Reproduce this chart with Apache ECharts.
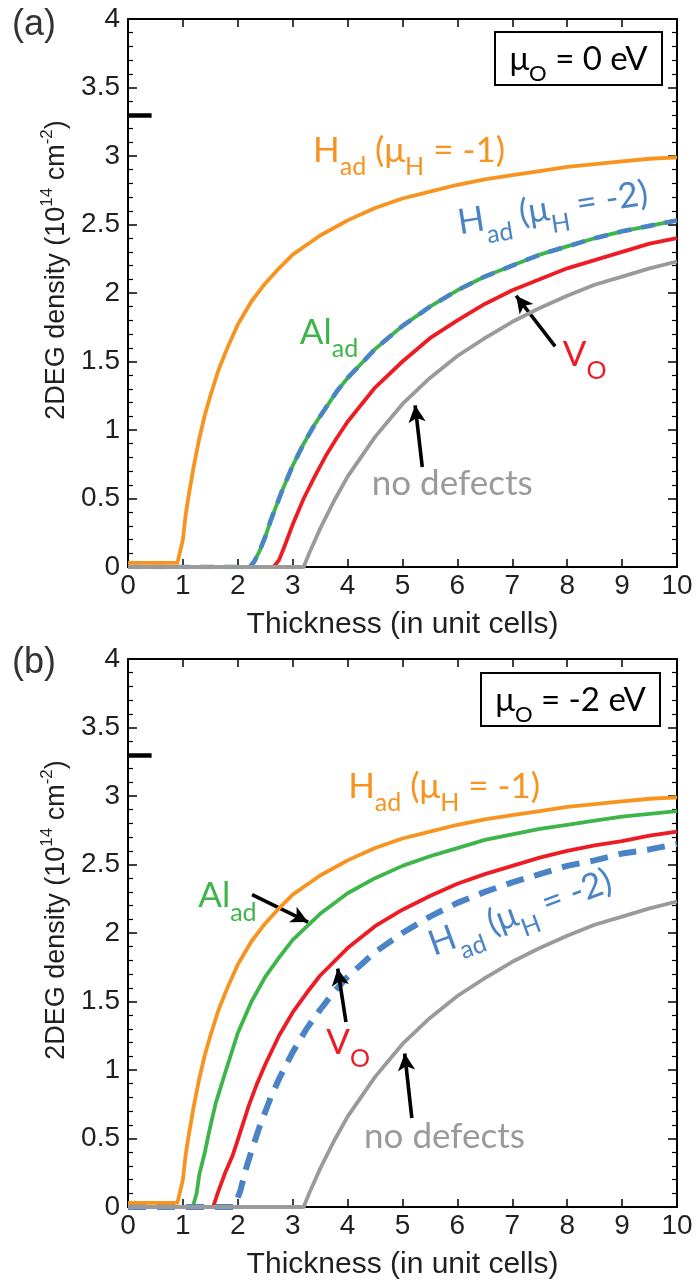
<!DOCTYPE html>
<html>
<head>
<meta charset="utf-8">
<script src="https://cdn.jsdelivr.net/npm/echarts@6/dist/echarts.min.js"></script>
<style>
  html, body { margin: 0; padding: 0; background: #fff; }
  #chart { width: 696px; height: 1281px; }
</style>
</head>
<body>
<div id="chart"></div>
<script>
// ---- Panel (a): mu_O = 0 eV ----
const aOrangeX = [0, 0.9, 1.0, 1.05, 1.1, 1.2, 1.3, 1.4, 1.5, 1.65, 1.8, 2.0, 2.25, 2.5, 2.75, 3.0, 3.5, 4.0, 4.5, 5.0, 5.5, 6.0, 6.5, 7.0, 7.5, 8.0, 8.5, 9.0, 9.5, 10];
const aOrangeY = [0.03, 0.03, 0.2, 0.38, 0.51, 0.74, 0.94, 1.11, 1.25, 1.44, 1.59, 1.77, 1.94, 2.07, 2.18, 2.28, 2.42, 2.53, 2.62, 2.69, 2.74, 2.79, 2.83, 2.86, 2.89, 2.92, 2.94, 2.96, 2.98, 2.99];
const aGreenX = [0, 2.22, 2.3, 2.4, 2.5, 2.6, 2.8, 3.0, 3.2, 3.4, 3.6, 3.8, 4.0, 4.5, 5.0, 5.5, 6.0, 6.5, 7.0, 7.5, 8.0, 8.5, 9.0, 9.5, 10];
const aGreenY = [0, 0, 0.04, 0.12, 0.22, 0.34, 0.55, 0.74, 0.90, 1.04, 1.16, 1.28, 1.38, 1.59, 1.76, 1.90, 2.02, 2.12, 2.20, 2.28, 2.34, 2.40, 2.45, 2.49, 2.53];
const aBlueX = [0, 2.22, 2.3, 2.4, 2.5, 2.6, 2.8, 3.0, 3.2, 3.4, 3.6, 3.8, 4.0, 4.5, 5.0, 5.5, 6.0, 6.5, 7.0, 7.5, 8.0, 8.5, 9.0, 9.5, 10];
const aBlueY = [0, 0, 0.04, 0.12, 0.22, 0.34, 0.55, 0.74, 0.90, 1.04, 1.16, 1.28, 1.38, 1.59, 1.76, 1.90, 2.02, 2.12, 2.20, 2.28, 2.34, 2.40, 2.45, 2.49, 2.53];
const aRedX = [0, 2.65, 2.75, 2.85, 3.0, 3.2, 3.4, 3.6, 3.8, 4.0, 4.5, 5.0, 5.5, 6.0, 6.5, 7.0, 7.5, 8.0, 8.5, 9.0, 9.5, 10];
const aRedY = [0, 0, 0.05, 0.15, 0.31, 0.50, 0.66, 0.81, 0.94, 1.06, 1.31, 1.50, 1.67, 1.80, 1.92, 2.02, 2.10, 2.18, 2.24, 2.30, 2.36, 2.40];
const aGrayX = [0, 3.2, 3.3, 3.4, 3.5, 3.75, 4.0, 4.5, 5.0, 5.5, 6.0, 6.5, 7.0, 7.5, 8.0, 8.5, 9.0, 9.5, 10];
const aGrayY = [0, 0, 0.10, 0.19, 0.28, 0.48, 0.66, 0.95, 1.19, 1.38, 1.54, 1.67, 1.79, 1.89, 1.98, 2.06, 2.12, 2.18, 2.23];

// ---- Panel (b): mu_O = -2 eV ----
const bOrangeX = [0, 0.9, 1.0, 1.05, 1.1, 1.2, 1.3, 1.4, 1.5, 1.65, 1.8, 2.0, 2.25, 2.5, 2.75, 3.0, 3.5, 4.0, 4.5, 5.0, 5.5, 6.0, 6.5, 7.0, 7.5, 8.0, 8.5, 9.0, 9.5, 10];
const bOrangeY = [0.03, 0.03, 0.2, 0.38, 0.51, 0.74, 0.94, 1.11, 1.25, 1.44, 1.59, 1.77, 1.94, 2.07, 2.18, 2.28, 2.42, 2.53, 2.62, 2.69, 2.74, 2.79, 2.83, 2.86, 2.89, 2.92, 2.94, 2.96, 2.98, 2.99];
const bGreenX = [0, 1.18, 1.25, 1.3, 1.4, 1.5, 1.6, 1.77, 2.0, 2.25, 2.5, 2.75, 3.0, 3.5, 4.0, 4.5, 5.0, 5.5, 6.0, 6.5, 7.0, 7.5, 8.0, 8.5, 9.0, 9.5, 10];
const bGreenY = [0, 0, 0.10, 0.24, 0.40, 0.59, 0.76, 0.98, 1.27, 1.50, 1.68, 1.82, 1.95, 2.14, 2.29, 2.40, 2.49, 2.56, 2.62, 2.68, 2.72, 2.76, 2.79, 2.82, 2.85, 2.87, 2.89];
const bRedX = [0, 1.55, 1.65, 1.77, 1.9, 2.0, 2.2, 2.35, 2.5, 2.75, 3.0, 3.25, 3.5, 4.0, 4.5, 5.0, 5.5, 6.0, 6.5, 7.0, 7.5, 8.0, 8.5, 9.0, 9.5, 10];
const bRedY = [0, 0, 0.12, 0.25, 0.37, 0.49, 0.74, 0.90, 1.04, 1.25, 1.42, 1.56, 1.69, 1.89, 2.05, 2.17, 2.27, 2.36, 2.43, 2.49, 2.55, 2.60, 2.64, 2.67, 2.71, 2.74];
const bBlueX = [0, 1.93, 2.04, 2.15, 2.25, 2.4, 2.6, 2.77, 3.0, 3.25, 3.5, 3.75, 4.0, 4.5, 5.0, 5.5, 6.0, 6.5, 7.0, 7.5, 8.0, 8.5, 9.0, 9.5, 10];
const bBlueY = [0, 0, 0.11, 0.28, 0.41, 0.59, 0.80, 0.95, 1.13, 1.30, 1.44, 1.57, 1.68, 1.86, 2.00, 2.12, 2.22, 2.30, 2.37, 2.43, 2.49, 2.53, 2.58, 2.61, 2.65];
const bGrayX = [0, 3.2, 3.3, 3.4, 3.5, 3.75, 4.0, 4.5, 5.0, 5.5, 6.0, 6.5, 7.0, 7.5, 8.0, 8.5, 9.0, 9.5, 10];
const bGrayY = [0, 0, 0.10, 0.19, 0.28, 0.48, 0.66, 0.95, 1.19, 1.38, 1.54, 1.67, 1.79, 1.89, 1.98, 2.06, 2.12, 2.18, 2.23];

// Sheet-density limit marked on the y axis (0.5 e per unit-cell area)
const limitDensity = 3.3;

// Axis ticks
const xTicks = [0, 1, 2, 3, 4, 5, 6, 7, 8, 9, 10];
const yTicks = [0, 0.5, 1, 1.5, 2, 2.5, 3, 3.5, 4];

const ORANGE = '#F7931E', GREEN = '#3DB54A', RED = '#ED1C24', BLUE = '#4A84C6', GRAY = '#9A9A9A', INK = '#231F20';
const SANS = '"Liberation Sans", Arial, Helvetica, sans-serif';
const HUM = 'Lato, "Open Sans", sans-serif';

const chart = echarts.init(document.getElementById('chart'), null, { renderer: 'canvas' });

const pairs = (xs, ys) => xs.map((x, i) => [x, ys[i]]);

function curve(xs, ys, color, xi, yi, extra) {
  return Object.assign({
    type: 'line', xAxisIndex: xi, yAxisIndex: yi,
    data: pairs(xs, ys), symbol: 'none', showSymbol: false, smooth: false,
    silent: true, animation: false,
    lineStyle: { color: color, width: 3.8, cap: 'butt', join: 'round' }
  }, extra || {});
}

function arrows(list) {
  return {
    silent: true, animation: false, symbol: ['none', 'arrow'], symbolSize: [13, 17],
    label: { show: false },
    lineStyle: { color: '#000', width: 3.6, type: 'solid' },
    emphasis: { disabled: true },
    data: list.map(a => [{ coord: a[0] }, { coord: a[1] }])
  };
}

function limitMark() {
  return {
    silent: true, animation: false, symbol: ['none', 'none'],
    label: { show: false },
    lineStyle: { color: '#000', width: 4.5, type: 'solid' },
    emphasis: { disabled: true },
    data: [[{ coord: [0, limitDensity] }, { coord: [0.43, limitDensity] }]]
  };
}

const gridTops = [19, 659];
const grids = gridTops.map(t => ({ left: 128, top: t, width: 549, height: 548 }));

const xAxes = [], yAxes = [];
[0, 1].forEach(g => {
  xAxes.push({
    gridIndex: g, type: 'value', min: 0, max: 10, interval: 1, position: 'bottom',
    name: 'Thickness (in unit cells)', nameLocation: 'middle', nameGap: 43,
    nameTextStyle: { fontFamily: SANS, fontSize: 30, color: INK },
    axisLine: { show: true, onZero: false, lineStyle: { color: '#000', width: 2 } },
    axisTick: { show: true, inside: true, length: 8, lineStyle: { color: '#000', width: 1.5 } },
    axisLabel: { show: true, margin: 5, fontFamily: SANS, fontSize: 28, color: INK,
      formatter: v => (xTicks.indexOf(v) >= 0 ? String(v) : '') },
    splitLine: { show: false }
  });
  xAxes.push({
    gridIndex: g, type: 'value', min: 0, max: 10, interval: 1, position: 'top',
    axisLine: { show: true, onZero: false, lineStyle: { color: '#000', width: 2 } },
    axisTick: { show: true, inside: true, length: 8, lineStyle: { color: '#000', width: 1.5 } },
    axisLabel: { show: false }, splitLine: { show: false }
  });
  yAxes.push({
    gridIndex: g, type: 'value', min: 0, max: 4, interval: 0.5, position: 'left',
    name: '{t|2DEG density (10}{p|14}{t| cm}{p|-2}{t|)}',
    nameLocation: 'middle', nameRotate: 90, nameGap: 50,
    nameTextStyle: {
      color: INK, padding: [0, 0, 0, 46],
      rich: {
        t: { fontFamily: SANS, fontSize: 27, lineHeight: 36, verticalAlign: 'middle', color: INK },
        p: { fontFamily: SANS, fontSize: 17, lineHeight: 20, verticalAlign: 'top', color: INK }
      }
    },
    axisLine: { show: true, onZero: false, lineStyle: { color: '#000', width: 2 } },
    axisTick: { show: true, inside: true, length: 9, lineStyle: { color: '#000', width: 1.5 } },
    minorTick: { show: true, splitNumber: 5, length: 5, lineStyle: { color: '#000', width: 1.2 } },
    axisLabel: { show: true, margin: 8, fontFamily: SANS, fontSize: 28, color: INK,
      formatter: v => (yTicks.indexOf(v) >= 0 ? String(v) : '') },
    splitLine: { show: false }, minorSplitLine: { show: false }
  });
  yAxes.push({
    gridIndex: g, type: 'value', min: 0, max: 4, interval: 0.5, position: 'right',
    axisLine: { show: true, onZero: false, lineStyle: { color: '#000', width: 2 } },
    axisTick: { show: true, inside: true, length: 9, lineStyle: { color: '#000', width: 1.5 } },
    minorTick: { show: true, splitNumber: 5, length: 5, lineStyle: { color: '#000', width: 1.2 } },
    axisLabel: { show: false }, splitLine: { show: false }, minorSplitLine: { show: false }
  });
});

const series = [
  // panel (a)
  curve(aGreenX, aGreenY, GREEN, 0, 0, { z: 2 }),
  curve(aBlueX, aBlueY, BLUE, 0, 0, { z: 3, lineStyle: { color: BLUE, width: 4.6, type: [14, 10], cap: 'butt' } }),
  curve(aRedX, aRedY, RED, 0, 0, { z: 4 }),
  curve(aOrangeX, aOrangeY, ORANGE, 0, 0, { z: 5 }),
  curve(aGrayX, aGrayY, GRAY, 0, 0, { z: 6,
    markLine: arrows([[[7.78, 1.61], [7.07, 1.98]], [[5.36, 0.73], [5.23, 1.18]]]) }),
  { type: 'line', xAxisIndex: 0, yAxisIndex: 0, data: [], silent: true, z: 7, markLine: limitMark() },
  // panel (b)
  curve(bGreenX, bGreenY, GREEN, 2, 2, { z: 2 }),
  curve(bRedX, bRedY, RED, 2, 2, { z: 3 }),
  curve(bBlueX, bBlueY, BLUE, 2, 2, { z: 4, lineStyle: { color: BLUE, width: 6, type: [18, 11], cap: 'butt' } }),
  curve(bOrangeX, bOrangeY, ORANGE, 2, 2, { z: 5 }),
  curve(bGrayX, bGrayY, GRAY, 2, 2, { z: 6,
    markLine: arrows([[[2.26, 2.28], [3.28, 2.08]], [[3.97, 1.35], [3.82, 1.74]], [[5.17, 0.65], [5.04, 1.12]]]) }),
  { type: 'line', xAxisIndex: 2, yAxisIndex: 2, data: [], silent: true, z: 7, markLine: limitMark() }
];

chart.setOption({
  animation: false,
  backgroundColor: '#fff',
  grid: grids,
  xAxis: xAxes,
  yAxis: yAxes,
  series: series
});

// Curve annotations, anchored in data space (left edge, vertical middle of capitals)
const annotations = [
  { p: 0, at: [3.37, 3.04], color: ORANGE, rot: 0, parts: [['m', 'H'], ['s', 'ad'], ['m', ' (μ'], ['s', 'H'], ['m', ' = -1)']] },
  { p: 0, at: [6.01, 2.51], color: BLUE, rot: 9, parts: [['m', 'H'], ['s', 'ad'], ['m', ' (μ'], ['s', 'H'], ['m', ' = -2)']] },
  { p: 0, at: [3.13, 1.71], color: GREEN, rot: 0, parts: [['m', 'Al'], ['s', 'ad']] },
  { p: 0, at: [7.92, 1.55], color: RED, rot: 0, parts: [['m', 'V'], ['s', 'O']] },
  { p: 0, at: [4.44, 0.61], color: GRAY, rot: 0, parts: [['m', 'no defects']] },
  { p: 1, at: [4.01, 3.07], color: ORANGE, rot: 0, parts: [['m', 'H'], ['s', 'ad'], ['m', ' (μ'], ['s', 'H'], ['m', ' = -1)']] },
  { p: 1, at: [1.28, 2.27], color: GREEN, rot: 0, parts: [['m', 'Al'], ['s', 'ad']] },
  { p: 1, at: [5.50, 1.91], color: BLUE, rot: 20, parts: [['m', 'H'], ['s', 'ad'], ['m', ' (μ'], ['s', 'H'], ['m', ' = -2)']] },
  { p: 1, at: [3.61, 1.20], color: RED, rot: 0, parts: [['m', 'V'], ['s', 'O']] },
  { p: 1, at: [4.30, 0.51], color: GRAY, rot: 0, parts: [['m', 'no defects']] }
];

const annoRich = {
  m: { fontFamily: HUM, fontSize: 35, lineHeight: 58, verticalAlign: 'middle' },
  s: { fontFamily: HUM, fontSize: 25, lineHeight: 25, verticalAlign: 'bottom' }
};

const graphics = [];
annotations.forEach(a => {
  const px = chart.convertToPixel({ xAxisIndex: a.p * 2, yAxisIndex: a.p * 2 }, a.at);
  graphics.push({
    type: 'text', x: px[0], y: px[1], rotation: a.rot * Math.PI / 180, silent: true, z: 20,
    style: {
      text: a.parts.map(t => '{' + t[0] + '|' + t[1] + '}').join(''),
      rich: annoRich, fill: a.color,
      align: 'left', verticalAlign: 'middle', textAlign: 'left', textVerticalAlign: 'middle'
    }
  });
});

// Panel letters
[['(a)', 7], ['(b)', 645]].forEach(p => {
  graphics.push({ type: 'text', x: 12, y: p[1], silent: true, z: 20,
    style: { text: p[0], font: '36px ' + SANS, fill: '#333', align: 'left', verticalAlign: 'top',
             textAlign: 'left', textVerticalAlign: 'top' } });
});

// Chemical-potential boxes
const boxes = [
  { x: 495, y: 32, w: 167, h: 53, value: ' = 0 eV' },
  { x: 481, y: 673, w: 179, h: 53, value: ' = -2 eV' }
];
const boxRich = {
  m: { fontFamily: HUM, fontSize: 33, lineHeight: 50, verticalAlign: 'middle', fill: '#000' },
  s: { fontFamily: HUM, fontSize: 22, lineHeight: 22, verticalAlign: 'bottom', fill: '#000' }
};
boxes.forEach(b => {
  graphics.push({ type: 'rect', silent: true, z: 18,
    shape: { x: b.x, y: b.y, width: b.w, height: b.h },
    style: { fill: '#fff', stroke: '#000', lineWidth: 2 } });
  graphics.push({ type: 'text', x: b.x + b.w / 2, y: b.y + b.h / 2 + 1, silent: true, z: 19,
    style: { text: '{m|μ}{s|O}{m|' + b.value + '}', rich: boxRich, fill: '#000',
             align: 'center', verticalAlign: 'middle', textAlign: 'center', textVerticalAlign: 'middle' } });
});

chart.setOption({ graphic: graphics });
</script>
</body>
</html>
